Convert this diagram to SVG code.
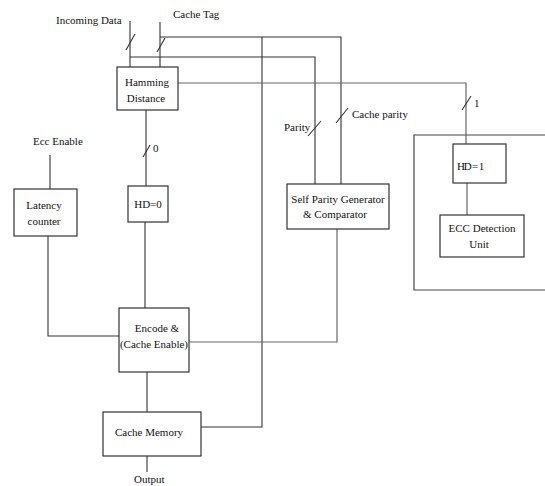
<svg xmlns="http://www.w3.org/2000/svg" width="545" height="486" viewBox="0 0 545 486">
<style>
.box{fill:#fff;stroke:#333;stroke-width:1.2}
.ln{fill:none;stroke:#333;stroke-width:1.1}
.gl{fill:none;stroke:#666;stroke-width:1.2}
text{font-family:"Liberation Serif","Times New Roman",serif;font-size:11px;fill:#111}
.m{text-anchor:middle}
</style>
<rect width="545" height="486" fill="#fff"/>
<g id="ecc-block"><path d="M546 135H414V290H546" style="fill:none;stroke:#444;stroke-width:1.2"/></g>
<g id="connectors">
<path class="ln" d="M130 21V67M160 22V67"/>
<path class="ln" d="M160 37H341V184M130 57H315V184"/>
<path class="ln" d="M262 37V427H201"/>
<path class="gl" d="M178 83H466V144"/>
<path class="ln" d="M146 110V186M145 222V308"/>
<path class="ln" d="M50 155V189M48 236V336H119"/>
<path class="gl" d="M189 342H337V229"/>
<path class="ln" d="M147 372V412M147 456V472"/>
<path class="gl" d="M467 183V215"/>
<path class="ln" d="M126 50L135 34M157 52L165 38M462 110L471 96M336 123L348 108M308 136L321 121M143 157L150 145"/>
</g>
<g id="labels">
<text x="56" y="24">Incoming Data</text>
<text x="173" y="18">Cache Tag</text>
<text x="474" y="107">1</text>
<text x="352" y="118">Cache parity</text>
<text x="284" y="131">Parity</text>
<text x="33" y="145">Ecc Enable</text>
<text x="153" y="152">0</text>
<text x="134" y="483">Output</text>
</g>
<g id="hamming"><rect class="box" x="117" y="67" width="61" height="43"/><text x="147" y="86" class="m">Hamming</text><text x="146" y="102" class="m">Distance</text></g>
<g id="latency"><rect class="box" x="14" y="189" width="63" height="47"/><text x="44" y="209" class="m">Latency</text><text x="44" y="225" class="m">counter</text></g>
<g id="hd0"><rect class="box" x="128" y="186" width="40" height="36"/><text x="148" y="208" class="m">HD=0</text></g>
<g id="selfparity"><rect class="box" x="287" y="184" width="102" height="45"/><text x="338" y="203" class="m">Self  Parity Generator</text><text x="335" y="218" class="m">&amp; Comparator</text></g>
<g id="hd1"><rect class="box" x="453" y="144" width="53" height="39"/><text x="470" y="170" class="m" style="letter-spacing:-1.2px">HD = 1</text></g>
<g id="eccdet"><rect class="box" x="440" y="215" width="84" height="42"/><text x="482" y="232" class="m">ECC Detection</text><text x="479" y="248" class="m">Unit</text></g>
<g id="encode"><rect class="box" x="119" y="308" width="70" height="64"/><text x="157" y="332" class="m">Encode &amp;</text><text x="154" y="348" class="m">(Cache Enable)</text></g>
<g id="cachemem"><rect class="box" x="103" y="412" width="98" height="44"/><text x="149" y="436" class="m">Cache Memory</text></g>
</svg>
